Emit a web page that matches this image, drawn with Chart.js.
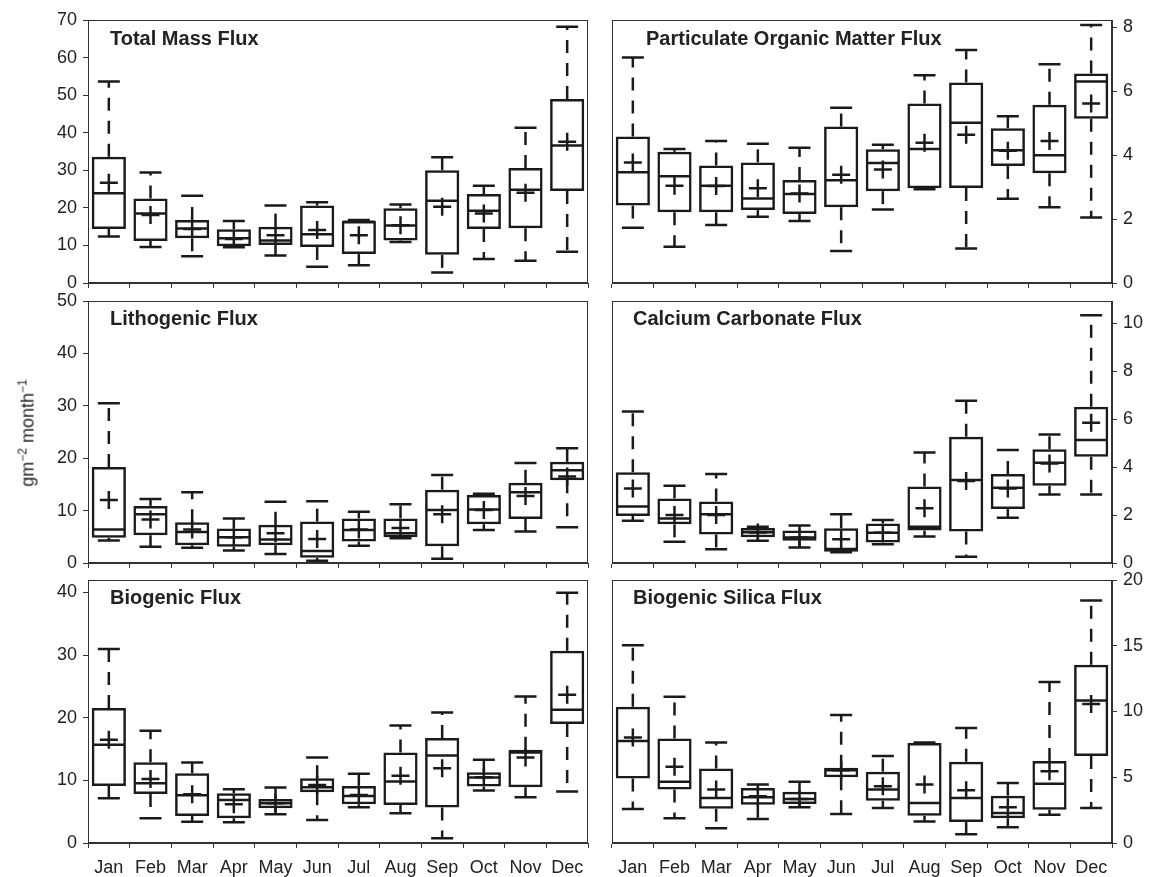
<!DOCTYPE html>
<html>
<head>
<meta charset="utf-8">
<script src="https://cdn.jsdelivr.net/npm/chart.js@4.4.1/dist/chart.umd.min.js"></script>
<style>
body{margin:0;background:#fff;width:1150px;height:877px;position:relative;overflow:hidden;font-family:"Liberation Sans",Arial,sans-serif}
canvas{position:absolute}
#ylab{position:absolute;left:27px;top:433px;transform:translate(-50%,-50%) rotate(-90deg);font-size:18px;color:#222;white-space:nowrap}
#ylab sup{font-size:12px}
</style>
</head>
<body>
<canvas id="c1" width="592" height="289" style="left:0;top:6px"></canvas>
<canvas id="c2" width="552" height="289" style="left:598px;top:6px"></canvas>
<canvas id="c3" width="592" height="288" style="left:0;top:287px"></canvas>
<canvas id="c4" width="552" height="288" style="left:598px;top:287px"></canvas>
<canvas id="c5" width="592" height="311" style="left:0;top:566px"></canvas>
<canvas id="c6" width="552" height="311" style="left:598px;top:566px"></canvas>
<div id="ylab">gm<sup>&minus;2</sup> month<sup>&minus;1</sup></div>
<script>
const months = ['Jan','Feb','Mar','Apr','May','Jun','Jul','Aug','Sep','Oct','Nov','Dec']

// total mass flux
const tmMin  = [12.4, 9.6, 7.1, 9.5, 7.3, 4.3, 4.7, 10.9, 2.8, 6.4, 5.9, 8.3]
const tmQ1   = [14.4, 11.2, 11.9, 9.8, 10.1, 9.6, 7.7, 11.3, 7.5, 14.4, 14.6, 24.5]
const tmMed  = [23.9, 18.5, 14.5, 11.9, 11.3, 13.0, 16.3, 15.3, 21.9, 19.2, 24.8, 36.6]
const tmQ3   = [33.6, 22.5, 16.8, 14.3, 15.0, 20.6, 16.5, 19.9, 30.0, 23.7, 30.6, 49.0]
const tmMax  = [53.6, 29.4, 23.2, 16.5, 20.6, 21.5, 16.8, 20.9, 33.5, 25.9, 41.3, 68.2]
const tmMean = [26.7, 18.1, 14.4, 11.7, 12.7, 14.1, 12.7, 15.4, 20.3, 18.5, 24.0, 37.6]

// particulate organic matter
const pomMin  = [1.73, 1.13, 1.81, 2.07, 1.94, 1.00, 2.30, 2.93, 1.08, 2.63, 2.37, 2.05]
const pomQ1   = [2.42, 2.21, 2.21, 2.28, 2.16, 2.37, 2.87, 2.96, 2.97, 3.66, 3.43, 5.13]
const pomMed  = [3.46, 3.34, 3.04, 2.64, 2.78, 3.21, 3.75, 4.19, 5.01, 4.15, 3.99, 6.30]
const pomQ3   = [4.58, 4.10, 3.67, 3.77, 3.22, 4.89, 4.18, 5.61, 6.27, 4.84, 5.57, 6.55]
const pomMax  = [7.05, 4.19, 4.44, 4.35, 4.23, 5.48, 4.32, 6.49, 7.28, 5.21, 6.84, 8.06]
const pomMean = [3.77, 3.04, 3.03, 2.96, 2.80, 3.38, 3.55, 4.38, 4.63, 4.13, 4.44, 5.61]

// lithogenic
const litMin  = [4.3, 3.1, 2.9, 2.4, 1.7, 0.45, 3.3, 4.7, 0.8, 6.3, 6.0, 6.8]
const litQ1   = [4.8, 5.3, 3.4, 3.1, 3.4, 1.0, 4.1, 4.9, 3.2, 7.4, 8.4, 15.8]
const litMed  = [6.4, 9.3, 5.9, 4.9, 4.5, 2.3, 6.3, 5.7, 10.1, 10.2, 13.5, 17.7]
const litQ3   = [18.3, 10.9, 7.8, 6.6, 7.3, 7.9, 8.5, 8.5, 14.0, 13.0, 15.3, 19.3]
const litMax  = [30.5, 12.2, 13.5, 8.5, 11.7, 11.8, 9.8, 11.2, 16.8, 13.2, 19.1, 21.9]
const litMean = [12.0, 8.3, 6.4, 4.9, 5.7, 4.6, 6.4, 6.7, 9.3, 10.1, 12.8, 16.5]

// calcium carbonate
const cacMin  = [1.76, 0.89, 0.57, 0.93, 0.65, 0.45, 0.78, 1.10, 0.26, 1.89, 2.86, 2.86]
const cacQ1   = [1.96, 1.61, 1.19, 1.07, 0.93, 0.47, 0.85, 1.35, 1.31, 2.25, 3.22, 4.43]
const cacMed  = [2.35, 1.85, 2.03, 1.28, 1.06, 0.58, 1.26, 1.51, 3.46, 3.14, 4.18, 5.13]
const cacQ3   = [3.78, 2.69, 2.56, 1.46, 1.35, 1.45, 1.65, 3.19, 5.26, 3.71, 4.74, 6.51]
const cacMax  = [6.31, 3.22, 3.71, 1.51, 1.56, 2.03, 1.79, 4.61, 6.76, 4.71, 5.36, 10.33]
const cacMean = [3.11, 2.00, 2.00, 1.27, 1.06, 0.99, 1.26, 2.28, 3.42, 3.11, 4.15, 5.85]

// biogenic
const bioMin  = [7.15, 3.95, 3.41, 3.31, 4.59, 3.68, 5.71, 4.75, 0.75, 8.37, 7.31, 8.21]
const bioQ1   = [9.12, 7.84, 4.32, 3.95, 5.55, 8.11, 6.19, 6.08, 5.65, 9.01, 8.91, 18.99]
const bioMed  = [15.68, 9.55, 7.63, 6.88, 6.35, 8.91, 7.52, 9.81, 13.97, 10.45, 14.45, 21.28]
const bioQ3   = [21.55, 12.91, 11.15, 7.95, 7.04, 10.35, 9.12, 14.45, 16.75, 11.31, 14.88, 30.72]
const bioMax  = [30.99, 17.92, 12.85, 8.59, 8.85, 13.65, 11.04, 18.77, 20.85, 13.28, 23.41, 39.95]
const bioMean = [16.48, 10.24, 7.79, 6.19, 6.35, 9.28, 7.68, 10.72, 11.95, 10.5, 13.65, 23.68]

// biogenic silica
const bsiMin  = [2.58, 1.89, 1.13, 1.82, 2.71, 2.2, 2.66, 1.63, 0.67, 1.20, 2.15, 2.66]
const bsiQ1   = [4.90, 4.06, 2.61, 2.91, 2.97, 5.0, 3.22, 2.07, 1.59, 1.89, 2.53, 6.61]
const bsiMed  = [7.76, 4.65, 3.43, 3.47, 3.35, 5.54, 4.06, 3.04, 3.43, 2.28, 4.50, 10.83]
const bsiQ3   = [10.37, 7.95, 5.67, 4.19, 3.89, 5.72, 5.42, 7.6, 6.18, 3.60, 6.23, 13.56]
const bsiMax  = [15.04, 11.13, 7.64, 4.44, 4.65, 9.73, 6.61, 7.64, 8.74, 4.57, 12.24, 18.44]
const bsiMean = [8.02, 5.80, 4.06, 3.55, 3.35, 5.54, 4.31, 4.44, 4.01, 2.71, 5.46, 10.57]

const ink = '#1a1a1a'
const font = '"Liberation Sans", Arial, sans-serif'
Chart.defaults.font.family = font
Chart.defaults.color = '#222'

// dashed whiskers from box edge out to min / max
const whiskers = {
	id: 'whiskers',
	beforeDatasetsDraw(chart, args, o){
		const x = chart.scales.x, y = chart.scales.y, ctx = chart.ctx
		ctx.save()
		ctx.strokeStyle = ink
		ctx.lineWidth = 2.5
		ctx.setLineDash([13, 10])
		for(let i = 0; i < o.q1.length; i++){
			const px = x.getPixelForValue(i)
			ctx.beginPath()
			ctx.moveTo(px, y.getPixelForValue(o.q3[i]))
			ctx.lineTo(px, y.getPixelForValue(o.hi[i]))
			ctx.stroke()
			ctx.beginPath()
			ctx.moveTo(px, y.getPixelForValue(o.q1[i]))
			ctx.lineTo(px, y.getPixelForValue(o.lo[i]))
			ctx.stroke()
		}
		ctx.restore()
	}
}

// box round the plot + panel title
const frame = {
	id: 'frame',
	afterDraw(chart, args, o){
		const a = chart.chartArea, ctx = chart.ctx
		ctx.save()
		ctx.strokeStyle = '#333'
		ctx.lineWidth = 1
		ctx.strokeRect(a.left + 0.5, a.top + 0.5, a.right - a.left - 1, a.bottom - a.top - 1)
		ctx.font = 'bold 20px ' + font
		ctx.fillStyle = '#222'
		ctx.fillText(o.title, a.left + o.dx, a.top + o.dy)
		ctx.restore()
	}
}

function noPad(s){
	s.paddingLeft = 0
	s.paddingRight = 0
	s.paddingTop = 0
	s.paddingBottom = 0
}

function pts(data, style, r){
	return {type: 'line', data: data, showLine: false, pointStyle: style, pointRadius: r,
		pointBorderWidth: 2.5, pointBorderColor: ink, pointBackgroundColor: ink, borderColor: ink}
}

function panel(id, side, yMax, step, showX, title, dx, dy, lo, q1, med, q3, hi, mean){
	const left = side == 'left'
	new Chart(document.getElementById(id), {
		type: 'bar',
		data: {
			labels: months,
			datasets: [
				{type: 'bar', data: q1.map((v, i) => [v, q3[i]]), backgroundColor: 'rgba(0,0,0,0)',
					borderColor: ink, borderWidth: 2.5, borderSkipped: false,
					barPercentage: 0.82, categoryPercentage: 1},
				pts(med, 'line', 16),
				pts(hi, 'line', 11),
				pts(lo, 'line', 11),
				pts(mean, 'cross', 9)
			]
		},
		options: {
			responsive: false,
			animation: false,
			events: [],
			layout: {
				autoPadding: false,
				padding: left ? {top: 14, left: 0, right: 4, bottom: 0} : {top: 14, left: 14, right: 0, bottom: 0}
			},
			plugins: {
				legend: {display: false},
				tooltip: {enabled: false},
				whiskers: {lo: lo, q1: q1, q3: q3, hi: hi},
				frame: {title: title, dx: dx, dy: dy}
			},
			scales: {
				x: {
					offset: true,
					grid: {offset: true, drawOnChartArea: false, tickLength: 5, color: '#333'},
					border: {color: '#333'},
					ticks: {display: showX, font: {size: 18}, padding: 9, maxRotation: 0, autoSkip: false},
					afterFit: s => { s.height = showX ? 34 : 12; noPad(s) }
				},
				y: {
					position: side,
					min: 0,
					max: yMax,
					grid: {drawOnChartArea: false, tickLength: 5, color: '#333'},
					border: {color: '#333'},
					ticks: {stepSize: step, includeBounds: false, font: {size: 18}, padding: 6},
					afterFit: s => { s.width = left ? 88 : 38; noPad(s) }
				}
			}
		},
		plugins: [whiskers, frame]
	})
}

panel('c1', 'left', 70, 10, false, 'Total Mass Flux', 22, 25, tmMin, tmQ1, tmMed, tmQ3, tmMax, tmMean)
panel('c2', 'right', 8.22, 2, false, 'Particulate Organic Matter Flux', 34, 25, pomMin, pomQ1, pomMed, pomQ3, pomMax, pomMean)
panel('c3', 'left', 50, 10, false, 'Lithogenic Flux', 22, 24, litMin, litQ1, litMed, litQ3, litMax, litMean)
panel('c4', 'right', 10.92, 2, false, 'Calcium Carbonate Flux', 21, 24, cacMin, cacQ1, cacMed, cacQ3, cacMax, cacMean)
panel('c5', 'left', 42, 10, true, 'Biogenic Flux', 22, 24, bioMin, bioQ1, bioMed, bioQ3, bioMax, bioMean)
panel('c6', 'right', 20, 5, true, 'Biogenic Silica Flux', 21, 24, bsiMin, bsiQ1, bsiMed, bsiQ3, bsiMax, bsiMean)
</script>
</body>
</html>
